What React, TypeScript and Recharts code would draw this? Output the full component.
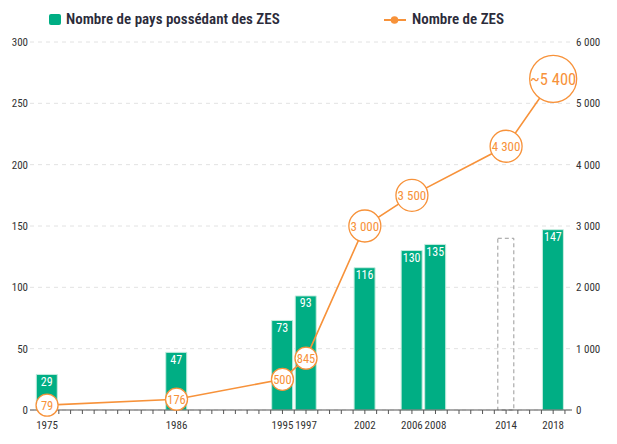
import React from 'react';
import { ComposedChart, Bar, Line, XAxis, YAxis, CartesianGrid, LabelList } from 'recharts';

const years = [1975, 1986, 1995, 1997, 2002, 2006, 2008, 2014, 2018];
const countriesWithZes = [29, 47, 73, 93, 116, 130, 135, null, 147];
const pendingCountries = [null, null, null, null, null, null, null, 140, null];
const zesCount = [79, 176, 500, 845, 3000, 3500, null, 4300, 5400];
const zesLabels = ['79', '176', '500', '845', '3 000', '3 500', '', '4 300', '~5 400'];
const yearTicks = [1975, 1986, 1995, 1997, 2002, 2006, 2008, 2014, 2018];
const minorTicks = [
  1975, 1976, 1977, 1978, 1979, 1980, 1981, 1982, 1983, 1984, 1985, 1986, 1987, 1988, 1989,
  1990, 1991, 1992, 1993, 1994, 1995, 1996, 1997, 1998, 1999, 2000, 2001, 2002, 2003, 2004,
  2005, 2006, 2007, 2008, 2009, 2010, 2011, 2012, 2013, 2014, 2015, 2016, 2017, 2018, 2019,
];
const leftTicks = [0, 50, 100, 150, 200, 250, 300];
const rightTicks = [0, 1000, 2000, 3000, 4000, 5000, 6000];

const legendCountries = 'Nombre de pays possédant des ZES';
const legendZes = 'Nombre de ZES';

const GREEN = '#00AE84';
const ORANGE = '#F7923A';
const FONT = '"Liberation Sans Narrow", "Roboto Condensed", "DejaVu Sans Condensed", "Liberation Sans", sans-serif';

const data = years.map((year, i) => ({
  year,
  countries: countriesWithZes[i],
  pending: pendingCountries[i],
  zes: zesCount[i],
  label: zesLabels[i],
}));

const X_DOMAIN: [number, number] = [1973.55, 2019.6];

const fmtThousands = (v: number) => {
  const s = String(v);
  return s.length > 3 ? s.slice(0, s.length - 3) + ' ' + s.slice(s.length - 3) : s;
};

const ZesDot = (props: any) => {
  const { cx, cy, payload, index } = props;
  if (cx == null || cy == null || payload == null || payload.zes == null) return null;
  const v = payload.zes;
  const big = v >= 5000;
  const mid = v >= 1000;
  const r = big ? 23.5 : mid ? 16 : 11;
  const fs = big ? 16.5 : mid ? 13 : 12.5;
  return (
    <g key={`dot-${index}`}>
      <circle cx={cx} cy={cy} r={r} fill="#fff" stroke={ORANGE} strokeWidth={1.3} />
      <text x={cx} y={cy} dy="0.36em" textAnchor="middle" fontSize={fs} fill={ORANGE} fontFamily={FONT}>
        {payload.label}
      </text>
    </g>
  );
};

const PendingShape = (props: any) => {
  const { x, y, width, height } = props;
  if (!height || height <= 0) return null;
  const w = 16;
  return (
    <rect
      x={x + (width - w) / 2}
      y={y}
      width={w}
      height={height}
      fill="none"
      stroke="#9a9a9a"
      strokeDasharray="4 3"
      strokeWidth={1}
    />
  );
};

const EmptyTick = () => <g />;

export default function App() {
  return (
    <div style={{ position: 'absolute', left: 0, top: 0, width: 617, height: 444, background: '#fff', fontFamily: FONT }}>
      <div style={{ position: 'absolute', left: 49, top: 14, width: 12, height: 11, background: GREEN, borderRadius: 2 }} />
      <div style={{ position: 'absolute', left: 66, top: 9, fontSize: 15, fontWeight: 600, lineHeight: '20px', color: '#2b2b3a', whiteSpace: 'nowrap' }}>
        {legendCountries}
      </div>
      <svg style={{ position: 'absolute', left: 382, top: 12 }} width={26} height={16}>
        <line x1={2} y1={8} x2={24} y2={8} stroke={ORANGE} strokeWidth={2} />
        <circle cx={12.5} cy={8} r={3.8} fill={ORANGE} />
      </svg>
      <div style={{ position: 'absolute', left: 412, top: 9, fontSize: 15, fontWeight: 600, lineHeight: '20px', color: '#2b2b3a', whiteSpace: 'nowrap' }}>
        {legendZes}
      </div>
      <ComposedChart
        width={617}
        height={444}
        data={data}
        margin={{ top: 42, right: 0, left: 0, bottom: 4 }}
        style={{ position: 'absolute', left: 0, top: 0 }}
      >
        <CartesianGrid
          xAxisId="b1"
          yAxisId="left"
          vertical={false}
          stroke="#e2e2e2"
          strokeDasharray="4 4"
        />
        <XAxis
          xAxisId="b1"
          type="number"
          dataKey="year"
          domain={X_DOMAIN}
          ticks={yearTicks}
          interval={0}
          tickLine={false}
          axisLine={false}
          tickSize={6}
          tickMargin={4}
          tick={{ fontSize: 11, fill: '#333', fontFamily: FONT }}
          height={29}
        />
        <XAxis
          xAxisId="a0"
          type="number"
          dataKey="year"
          domain={X_DOMAIN}
          ticks={minorTicks}
          interval={0}
          tick={EmptyTick}
          tickFormatter={() => ''}
          tickSize={4}
          tickLine={{ stroke: '#555', strokeWidth: 1 }}
          axisLine={{ stroke: '#555', strokeWidth: 1.2 }}
          height={1}
        />
        <YAxis
          yAxisId="left"
          orientation="left"
          domain={[0, 300]}
          ticks={leftTicks}
          interval={0}
          width={30}
          tickLine={false}
          axisLine={false}
          tickSize={0}
          tickMargin={2}
          tick={{ fontSize: 11, fill: '#333', fontFamily: FONT }}
        />
        <YAxis
          yAxisId="right"
          orientation="right"
          domain={[0, 6000]}
          ticks={rightTicks}
          interval={0}
          width={45}
          tickLine={false}
          axisLine={false}
          tickSize={0}
          tickMargin={4}
          tickFormatter={fmtThousands}
          tick={{ fontSize: 11, fill: '#333', fontFamily: FONT, textAnchor: 'start' }}
        />
        <Bar
          xAxisId="b1"
          yAxisId="left"
          dataKey="countries"
          stackId="a"
          barSize={21}
          fill={GREEN}
          stroke="#c6ecdf"
          strokeWidth={1}
          isAnimationActive={false}
        >
          <LabelList dataKey="countries" position="insideTop" offset={3} fill="#fff" fontSize={12} fontFamily={FONT} />
        </Bar>
        <Bar
          xAxisId="b1"
          yAxisId="left"
          dataKey="pending"
          stackId="a"
          barSize={21}
          shape={PendingShape}
          isAnimationActive={false}
        />
        <Line
          xAxisId="b1"
          yAxisId="right"
          dataKey="zes"
          stroke={ORANGE}
          strokeWidth={1.6}
          connectNulls
          dot={ZesDot}
          activeDot={false}
          isAnimationActive={false}
        />
      </ComposedChart>
    </div>
  );
}
